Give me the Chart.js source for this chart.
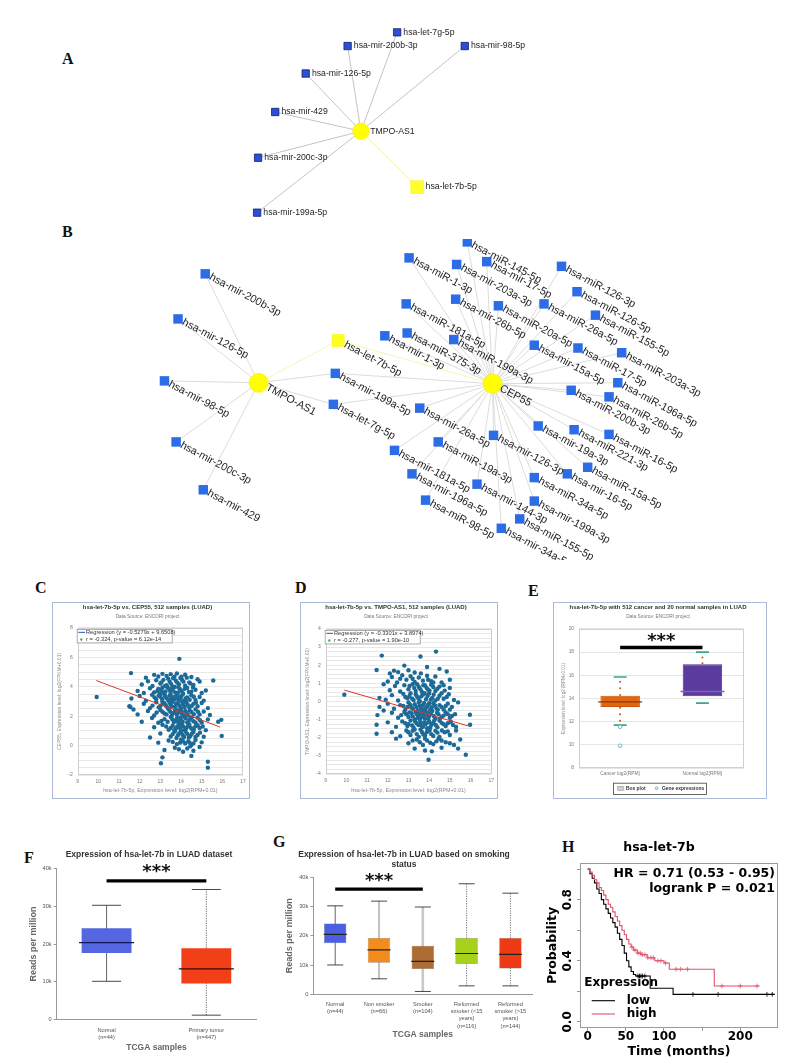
<!DOCTYPE html>
<html>
<head>
<meta charset="utf-8">
<title>hsa-let-7b-5p / TMPO-AS1 / CEP55</title>
<script src="https://cdn.jsdelivr.net/npm/chart.js@4.4.0/dist/chart.umd.min.js"></script>
<style>
  html, body { margin: 0; padding: 0; background: #fff; }
  body { position: relative; width: 795px; height: 1060px; overflow: hidden; }
  canvas { position: absolute; }
  .tag { position: absolute; font: bold 16px "Liberation Serif", "Times New Roman", serif; color: #111; line-height: 16px; }
  .card { position: absolute; box-sizing: border-box; border: 1px solid #a9bbd6; background: #fff; }
</style>
</head>
<body>
<div class="tag" style="left:62px;top:51px">A</div>
<div class="tag" style="left:62px;top:224px">B</div>
<div class="tag" style="left:35px;top:580px">C</div>
<div class="tag" style="left:295px;top:580px">D</div>
<div class="tag" style="left:528px;top:583px">E</div>
<div class="tag" style="left:24px;top:850px">F</div>
<div class="tag" style="left:273px;top:834px">G</div>
<div class="tag" style="left:562px;top:839px">H</div>
<div class="card" style="left:52px;top:602px;width:198px;height:197px"></div>
<div class="card" style="left:300px;top:602px;width:198px;height:197px"></div>
<div class="card" style="left:553px;top:602px;width:214px;height:197px"></div>
<script>
/* ===== data ===== */

// A: TMPO-AS1 ceRNA sub-network (layout units)
const netANames = ['TMPO-AS1', 'hsa-let-7g-5p', 'hsa-mir-200b-3p', 'hsa-mir-98-5p', 'hsa-mir-126-5p',
  'hsa-mir-429', 'hsa-mir-200c-3p', 'hsa-mir-199a-5p', 'hsa-let-7b-5p'];
const netAX = [359, 397, 345, 468, 301, 269, 251, 250, 418];
const netAY = [132, 24, 39, 39, 69, 111, 161, 221, 193];
const netAKind = ['hub', 'mir', 'mir', 'mir', 'mir', 'mir', 'mir', 'mir', 'key'];
const netALinks = [[0, 1], [0, 2], [0, 3], [0, 4], [0, 5], [0, 6], [0, 7], [0, 8]];

// B: TMPO-AS1 / CEP55 network (layout units)
const netBNames = ['TMPO-AS1', 'hsa-mir-200b-3p', 'hsa-mir-126-5p', 'hsa-mir-98-5p', 'hsa-mir-200c-3p',
  'hsa-mir-429', 'hsa-let-7b-5p', 'hsa-mir-199a-5p', 'hsa-let-7g-5p', 'CEP55',
  'hsa-mir-1-3p', 'hsa-miR-145-5p', 'hsa-miR-1-3p', 'hsa-mir-203a-3p', 'hsa-mir-17-5p',
  'hsa-miR-126-3p', 'hsa-miR-126-5p', 'hsa-mir-26b-5p', 'hsa-miR-20a-5p', 'hsa-miR-26a-5p',
  'hsa-miR-155-5p', 'hsa-miR-181a-5p', 'hsa-miR-199a-3p', 'hsa-miR-375-3p', 'hsa-mir-15a-5p',
  'hsa-miR-17-5p', 'hsa-miR-203a-3p', 'hsa-miR-196a-5p', 'hsa-miR-200b-3p', 'hsa-miR-26b-5p',
  'hsa-mir-26a-5p', 'hsa-mir-19a-3p', 'hsa-miR-221-3p', 'hsa-miR-16-5p', 'hsa-miR-19a-3p',
  'hsa-mir-126-3p', 'hsa-mir-181a-5p', 'hsa-miR-15a-5p', 'hsa-mir-16-5p', 'hsa-miR-34a-5p',
  'hsa-mir-196a-5p', 'hsa-mir-144-3p', 'hsa-miR-98-5p', 'hsa-mir-199a-3p', 'hsa-miR-155-5p',
  'hsa-mir-34a-5p'];
const netBX = [253, 198, 170, 156, 168, 196, 335, 332, 330, 494,
  383, 468, 408, 457, 488, 565, 581, 456, 500, 547,
  600, 405, 454, 406, 537, 582, 627, 623, 575, 614,
  419, 541, 578, 614, 438, 495, 393, 592, 571, 537,
  411, 478, 425, 537, 522, 503];
const netBY = [382, 266, 314, 380, 445, 496, 337, 372, 405, 383,
  332, 232, 249, 256, 253, 258, 285, 293, 300, 298,
  310, 298, 336, 329, 342, 345, 350, 382, 390, 397,
  409, 428, 432, 437, 445, 438, 454, 472, 479, 483,
  479, 490, 507, 508, 527, 537];
const netBKind = ['hub', 'mir', 'mir', 'mir', 'mir', 'mir', 'key', 'mir', 'mir', 'hub'].concat(Array(36).fill('mir'));
const tmpoTargets = [1, 2, 3, 4, 5, 6, 7, 8];
const cepTargets = [6, 7, 8, 10, 11, 12, 13, 14, 15, 16, 17, 18, 19, 20, 21, 22, 23, 24, 25, 26, 27, 28,
  29, 30, 31, 32, 33, 34, 35, 36, 37, 38, 39, 40, 41, 42, 43, 44, 45];

// C: hsa-let-7b-5p vs CEP55 (log2 expression)
const cepPoints = [
  [12.3,4.62],[12.7,4.81],[12.9,4.7],[13.1,4.88],[13.3,4.74],[13.5,4.86],[13.62,4.58],[13.8,4.9],[14.02,4.69],[14.2,4.82],[14.5,4.66],[14.8,4.52],
  [12.1,4.15],[12.4,4.38],[12.62,4.05],[12.8,4.44],[13.0,4.22],[13.15,4.47],[13.3,4.1],[13.45,4.35],[13.6,4.02],[13.75,4.41],[13.9,4.18],[14.05,4.46],[14.2,4.08],[14.4,4.3],[14.6,4.12],[14.9,4.36],
  [11.9,3.72],[12.2,3.58],[12.5,3.9],[12.7,3.62],[12.9,3.85],[13.0,3.55],[13.1,3.95],[13.25,3.68],[13.4,3.88],[13.5,3.52],[13.6,3.78],[13.7,3.98],[13.85,3.6],[13.95,3.83],[14.1,3.55],[14.3,3.92],[14.5,3.66],[14.7,3.8],[15.0,3.58],[15.2,3.75],
  [11.6,3.2],[12.0,3.38],[12.3,3.05],[12.6,3.45],[12.8,3.15],[13.0,3.32],[13.1,3.02],[13.2,3.48],[13.3,3.22],[13.45,3.4],[13.55,3.08],[13.65,3.3],[13.8,3.45],[13.9,3.12],[14.0,3.36],[14.15,3.04],[14.3,3.28],[14.5,3.42],[14.7,3.1],[14.9,3.3],[15.1,3.06],
  [11.55,2.62],[12.2,2.85],[12.5,2.55],[12.8,2.95],[13.0,2.7],[13.2,2.88],[13.35,2.58],[13.5,2.8],[13.6,2.98],[13.7,2.65],[13.85,2.9],[14.0,2.52],[14.1,2.78],[14.25,2.96],[14.4,2.6],[14.6,2.84],[14.8,2.68],[15.0,2.9],[15.3,2.55],
  [11.9,2.12],[12.4,2.35],[12.7,2.05],[13.0,2.42],[13.2,2.18],[13.4,2.45],[13.55,2.02],[13.7,2.3],[13.8,2.1],[13.95,2.4],[14.05,2.15],[14.2,2.36],[14.35,2.05],[14.5,2.28],[14.7,2.46],[14.9,2.12],[15.1,2.32],[15.4,2.08],
  [12.1,1.62],[12.6,1.88],[12.9,1.55],[13.2,1.8],[13.5,1.95],[13.65,1.6],[13.8,1.85],[13.9,1.52],[14.0,1.75],[14.15,1.98],[14.3,1.58],[14.45,1.82],[14.6,1.66],[14.8,1.9],[15.0,1.56],[15.3,1.78],
  [12.7,1.25],[13.1,1.42],[13.4,1.08],[13.6,1.35],[13.75,1.15],[13.9,1.46],[14.0,1.02],[14.1,1.3],[14.25,1.18],[14.4,1.44],[14.55,1.1],[14.7,1.32],[14.9,1.2],[15.2,1.05],
  [12.5,0.55],[13.0,0.82],[13.5,0.62],[13.7,0.95],[13.85,0.7],[14.0,0.88],[14.15,0.58],[14.3,0.8],[14.45,0.65],[14.6,0.92],[14.8,0.72],[15.1,0.6],
  [12.9,0.2],[13.4,0.35],[13.8,0.1],[14.0,0.42],[14.2,0.15],[14.35,0.3],[14.5,0.05],[14.7,0.38],[15.0,0.22],
  [13.2,-0.3],[13.7,-0.15],[14.1,-0.42],[14.3,-0.2],[14.6,-0.35],[14.9,-0.1],[13.1,-0.8],[14.5,-0.7],
  [9.92,3.3],[13.92,5.9],[15.56,4.43],[11.58,4.93],[13.03,-1.2],[15.3,-1.1],[15.3,-1.5],[15.97,0.66],[15.95,1.75],[15.8,1.62],[11.5,2.68],[11.7,2.45],
  [13.05,4.3],[13.22,4.05],[13.38,4.55],[13.52,4.2],[13.68,4.68],[13.82,4.28],[13.97,4.6],[14.12,4.35],[14.28,4.62],[14.45,4.22],
  [12.85,3.7],[13.05,3.78],[13.18,3.6],[13.33,3.98],[13.48,3.7],[13.58,3.92],[13.72,3.62],[13.88,3.96],[14.03,3.72],[14.18,3.86],[14.38,3.64],[14.58,3.95],
  [12.72,3.28],[12.92,3.4],[13.08,3.18],[13.24,3.36],[13.38,3.1],[13.52,3.26],[13.7,3.14],[13.84,3.28],[13.98,3.18],[14.08,3.48],[14.22,3.2],[14.42,3.12],[14.62,3.32],
  [12.62,2.72],[12.92,2.6],[13.1,2.82],[13.28,2.7],[13.44,2.92],[13.55,2.66],[13.76,2.84],[13.92,2.7],[14.06,2.95],[14.18,2.62],[14.32,2.8],[14.52,2.7],[14.72,2.92],
  [12.82,2.25],[13.1,2.3],[13.3,2.12],[13.48,2.3],[13.62,2.2],[13.75,2.48],[13.88,2.25],[14.0,2.3],[14.12,2.05],[14.28,2.22],[14.42,2.4],[14.62,2.14],[14.82,2.3],
  [13.05,1.68],[13.35,1.62],[13.58,1.78],[13.72,1.7],[13.85,1.62],[13.95,1.9],[14.08,1.62],[14.22,1.85],[14.38,1.7],[14.52,1.92],[14.7,1.58],[14.92,1.72],
  [13.28,1.3],[13.5,1.2],[13.68,1.05],[13.82,1.3],[13.95,1.2],[14.05,1.4],[14.18,1.08],[14.32,1.32],[14.48,1.22],[14.62,1.1],[14.8,1.38],[15.05,1.3],
  [13.6,0.78],[13.78,0.52],[13.92,0.85],[14.08,0.72],[14.22,0.95],[14.38,0.55],[14.52,0.8],[14.7,0.58],[14.92,0.88],
  [13.6,0.25],[13.95,0.2],[14.1,0.3],[14.42,0.2],[14.6,0.15],[13.9,-0.25],[14.45,-0.05]
];
const cepReg = { slope: -0.5279, icpt: 9.6508, from: 9.9, to: 15.9 };

// D: hsa-let-7b-5p vs TMPO-AS1 (log2 expression)
const tmpoPoints = [
  [12.1,1.55],[12.3,1.7],[12.5,1.62],[12.8,1.98],[13.0,1.72],[13.3,1.6],[13.6,1.55],[13.58,2.48],[14.33,2.75],[14.5,1.8],[14.85,1.65],[13.9,1.9],
  [12.0,1.1],[12.2,1.35],[12.45,1.05],[12.7,1.45],[12.9,1.2],[13.1,1.4],[13.3,1.08],[13.5,1.32],[13.7,1.15],[13.9,1.42],[14.1,1.12],[14.3,1.38],[14.6,1.05],[15.0,1.2],
  [11.8,0.95],[12.1,0.62],[12.35,0.85],[12.6,0.55],[12.8,0.9],[13.0,0.68],[13.2,0.95],[13.35,0.58],[13.5,0.8],[13.65,0.52],[13.8,0.88],[13.95,0.65],[14.1,0.92],[14.3,0.58],[14.5,0.82],[14.75,0.6],[15.0,0.75],
  [11.9,0.1],[12.2,0.35],[12.5,0.05],[12.75,0.42],[12.95,0.18],[13.1,0.46],[13.25,0.08],[13.4,0.3],[13.55,0.02],[13.7,0.38],[13.85,0.12],[14.0,0.44],[14.15,0.2],[14.3,0.05],[14.5,0.32],[14.7,0.15],[14.95,0.4],[15.2,0.08],
  [11.6,-0.3],[12.0,-0.12],[12.3,-0.4],[12.6,-0.2],[12.85,-0.45],[13.0,-0.05],[13.15,-0.32],[13.3,-0.15],[13.45,-0.48],[13.55,-0.22],[13.65,-0.4],[13.75,-0.08],[13.85,-0.35],[13.95,-0.18],[14.05,-0.46],[14.2,-0.1],[14.35,-0.38],[14.5,-0.2],[14.7,-0.44],[14.9,-0.12],[15.1,-0.3],[15.4,-0.05],
  [11.5,-0.75],[12.2,-0.62],[12.5,-0.9],[12.8,-0.58],[13.0,-0.85],[13.15,-0.65],[13.3,-0.98],[13.4,-0.7],[13.5,-0.55],[13.6,-0.88],[13.7,-0.66],[13.8,-0.95],[13.9,-0.6],[14.0,-0.8],[14.15,-0.52],[14.3,-0.92],[14.45,-0.7],[14.6,-0.85],[14.8,-0.6],[15.0,-0.9],[15.25,-0.7],[15.97,-0.73],
  [11.46,-1.28],[12.0,-1.15],[12.4,-1.4],[12.7,-1.1],[12.95,-1.35],[13.1,-1.05],[13.25,-1.45],[13.4,-1.2],[13.55,-1.02],[13.65,-1.38],[13.75,-1.15],[13.9,-1.48],[14.0,-1.1],[14.1,-1.3],[14.25,-1.05],[14.4,-1.42],[14.6,-1.18],[14.8,-1.35],[15.05,-1.12],[15.3,-1.4],[15.98,-1.28],
  [11.46,-1.78],[12.2,-1.7],[12.6,-1.92],[12.9,-1.6],[13.1,-1.85],[13.3,-1.55],[13.5,-1.95],[13.65,-1.68],[13.8,-1.88],[13.95,-1.58],[14.1,-1.8],[14.3,-1.62],[14.5,-1.95],[14.75,-1.7],[15.0,-1.85],[15.3,-1.6],
  [12.4,-2.05],[13.0,-2.3],[13.4,-2.1],[13.7,-2.4],[13.9,-2.15],[14.2,-2.35],[14.45,-2.05],[14.8,-2.25],[15.2,-2.4],[15.5,-2.1],
  [13.3,-2.6],[13.8,-2.7],[14.13,-2.75],[13.97,-3.21],[15.77,-2.94],[15.4,-2.6],[14.6,-2.55],
  [9.9,0.37],[11.71,2.53],[11.46,1.74],[11.6,0.2],[11.8,-0.5],
  [13.05,0.85],[13.28,0.75],[13.42,0.95],[13.58,0.68],[13.72,0.9],[13.88,0.75],[14.02,0.6],[14.2,0.8],[14.4,0.7],
  [12.85,0.25],[13.05,0.3],[13.18,0.15],[13.35,0.4],[13.48,0.18],[13.62,0.28],[13.78,0.45],[13.92,0.3],[14.08,0.1],[14.22,0.38],[14.42,0.15],[14.6,0.45],[14.85,0.25],
  [12.75,-0.25],[12.95,-0.3],[13.08,-0.18],[13.22,-0.42],[13.38,-0.3],[13.5,-0.05],[13.6,-0.32],[13.7,-0.2],[13.8,-0.48],[13.9,-0.28],[14.0,-0.1],[14.12,-0.32],[14.28,-0.22],[14.42,-0.45],[14.6,-0.3],[14.8,-0.25],[15.0,-0.45],
  [12.65,-0.75],[12.9,-0.7],[13.05,-0.6],[13.2,-0.82],[13.35,-0.58],[13.45,-0.9],[13.55,-0.75],[13.65,-0.6],[13.75,-0.85],[13.85,-0.72],[13.95,-0.92],[14.08,-0.68],[14.22,-0.8],[14.38,-0.62],[14.52,-0.95],[14.7,-0.78],[14.9,-0.7],[15.1,-0.8],
  [12.85,-1.2],[13.0,-1.25],[13.18,-1.32],[13.32,-1.1],[13.48,-1.3],[13.6,-1.2],[13.7,-1.4],[13.82,-1.25],[13.95,-1.15],[14.05,-1.45],[14.18,-1.2],[14.32,-1.3],[14.5,-1.05],[14.7,-1.25],[14.9,-1.2],[15.15,-1.3],
  [13.0,-1.7],[13.2,-1.62],[13.4,-1.8],[13.58,-1.55],[13.72,-1.82],[13.88,-1.7],[14.02,-1.6],[14.2,-1.9],[14.4,-1.72],[14.62,-1.6],[14.9,-1.65],
  [13.2,-2.15],[13.55,-2.25],[13.8,-2.05],[14.05,-2.28],[14.35,-2.2],[14.6,-2.15],[15.0,-2.3],
  [13.95,1.2],[14.2,1.05],[13.2,1.25],[12.6,1.25],[14.7,0.9]
];
const tmpoReg = { slope: -0.3301, icpt: 3.8974, from: 9.9, to: 15.9 };

// E: ENCORI box plot, log2(RPM+0.01)
const eCats = ['Cancer log2(RPM)', 'Normal log2(RPM)'];
const eQ1 = [13.27, 14.2];
const eMed = [13.71, 14.6];
const eQ3 = [14.24, 16.95];
const eLo = [11.7, 13.6];
const eHi = [15.86, 18.0];
const eDotsCancer = [15.45, 14.88, 14.3, 13.2, 12.63, 12.08];
const eDotsNormal = [17.53, 17.05];
const eOpenCancer = [11.55, 9.92];
const eSigLevel = 18.4;

// F: UALCAN, reads per million
const fCats = ['Normal', 'Primary tumor'];
const fTicks = [['Normal', '(n=44)'], ['Primary tumor', '(n=447)']];
const fQ1 = [17600, 9500];
const fMed = [20400, 13400];
const fQ3 = [24200, 18900];
const fLo = [10100, 1100];
const fHi = [30300, 34500];
const fSigLevel = 36800;

// G: UALCAN by smoking status
const gCats = ['Normal', 'Non smoker', 'Smoker', 'Reformed smoker (<15 years)', 'Reformed smoker (>15 years)'];
const gTicks = [['Normal', '(n=44)'], ['Non smoker', '(n=66)'], ['Smoker', '(n=104)'],
  ['Reformed', 'smoker (<15', 'years)', '(n=116)'], ['Reformed', 'smoker (>15', 'years)', '(n=144)']];
const gQ1 = [17500, 10900, 8700, 10400, 8900];
const gMed = [20500, 15200, 11300, 14000, 13700];
const gQ3 = [24200, 19300, 16600, 19300, 19300];
const gLo = [10100, 5400, 1100, 3000, 3000];
const gHi = [30200, 31800, 29800, 37700, 34500];
const gSigLevel = 35900;

// H: Kaplan-Meier, hsa-let-7b
const kmLowT = [0, 3, 6, 9, 12, 15, 18, 21, 24, 27, 30, 33, 36, 39, 42, 45, 48, 51, 54, 57, 60, 63, 82, 112, 245];
const kmLowS = [1.0, 0.97, 0.94, 0.91, 0.87, 0.84, 0.80, 0.77, 0.74, 0.71, 0.68, 0.65, 0.62, 0.58, 0.54, 0.50, 0.45, 0.40, 0.36, 0.33, 0.31, 0.30, 0.22, 0.18, 0.18];
const kmHighT = [0, 3, 6, 9, 12, 15, 18, 21, 24, 27, 30, 33, 36, 39, 42, 45, 48, 51, 54, 57, 60, 65, 70, 78, 88, 100, 107, 166, 225];
const kmHighS = [1.0, 0.98, 0.96, 0.93, 0.91, 0.88, 0.86, 0.83, 0.80, 0.77, 0.75, 0.72, 0.69, 0.66, 0.63, 0.60, 0.57, 0.54, 0.51, 0.49, 0.47, 0.45, 0.44, 0.42, 0.40, 0.385, 0.345, 0.235, 0.235];
const kmLowCens = [66, 68, 70, 72, 75, 138, 171, 235, 242];
const kmHighCens = [58, 62, 66, 69, 72, 75, 79, 83, 86, 92, 96, 102, 116, 122, 131, 176, 200, 222];

/* ===== shared setup ===== */
const SANS = '"Liberation Sans", Arial, sans-serif';
const DJV = '"DejaVu Sans", sans-serif';
Chart.defaults.font.family = SANS;
Chart.defaults.color = '#666';
Chart.defaults.animation = false;
Chart.defaults.responsive = false;
Chart.defaults.events = [];
Chart.defaults.plugins.legend.display = false;
Chart.defaults.plugins.tooltip.enabled = false;

function canvasAt(left, top, w, h) {
  const c = document.createElement('canvas');
  c.width = w; c.height = h;
  c.style.left = left + 'px'; c.style.top = top + 'px';
  c.style.width = w + 'px'; c.style.height = h + 'px';
  document.body.appendChild(c);
  return c;
}
const fixW = w => s => { s.width = w; };
const fixH = h => s => { s.height = h; };
const onStep = (v, m) => Math.abs(v / m - Math.round(v / m)) < 1e-6;
const stepAt = (T, S, t) => { let s = S[0]; T.forEach((tt, i) => { if (tt <= t) s = S[i]; }); return s; };

function drawText(ctx, x, y, t) {
  ctx.save();
  ctx.translate(x, y);
  if (t.rot) ctx.rotate(t.rot * Math.PI / 180);
  ctx.font = t.font;
  ctx.fillStyle = t.color || '#000';
  ctx.textAlign = t.align || 'left';
  ctx.textBaseline = t.base || 'middle';
  ctx.fillText(t.text, 0, 0);
  ctx.restore();
}

// frame, small legends and annotations drawn on top of a chart
function decor(cfg) {
  return {
    id: 'decor',
    afterDraw(chart) {
      const ctx = chart.ctx, a = chart.chartArea;
      ctx.save();
      if (cfg.frame) {
        ctx.strokeStyle = cfg.frame; ctx.lineWidth = 1;
        ctx.strokeRect(Math.round(a.left) + 0.5, Math.round(a.top) + 0.5,
          Math.round(a.right - a.left) - 1, Math.round(a.bottom - a.top) - 1);
      }
      if (cfg.box) {
        const b = cfg.box;
        const [bx, by] = b.at(chart);
        if (b.border) {
          ctx.fillStyle = '#fff'; ctx.fillRect(bx, by, b.w, b.h);
          ctx.strokeStyle = b.border; ctx.lineWidth = b.lw || 0.8;
          ctx.strokeRect(bx + 0.5, by + 0.5, b.w, b.h);
        }
        b.marks.forEach(m => {
          ctx.beginPath();
          if (m.kind === 'line') {
            ctx.strokeStyle = m.color; ctx.lineWidth = m.lw || 1;
            ctx.moveTo(bx + m.x1, by + m.y); ctx.lineTo(bx + m.x2, by + m.y); ctx.stroke();
          } else if (m.kind === 'dot') {
            ctx.fillStyle = m.color; ctx.arc(bx + m.x, by + m.y, m.r, 0, 2 * Math.PI); ctx.fill();
          } else if (m.kind === 'ring') {
            ctx.strokeStyle = m.color; ctx.lineWidth = 0.8; ctx.arc(bx + m.x, by + m.y, m.r, 0, 2 * Math.PI); ctx.stroke();
          } else if (m.kind === 'rect') {
            ctx.fillStyle = m.color; ctx.fillRect(bx + m.x, by + m.y, m.w, m.h);
            ctx.strokeStyle = m.stroke; ctx.lineWidth = 0.6; ctx.strokeRect(bx + m.x, by + m.y, m.w, m.h);
          }
        });
        b.texts.forEach(t => drawText(ctx, bx + t.x, by + t.y, t));
      }
      (cfg.texts || []).forEach(t => { const [x, y] = t.at(chart); drawText(ctx, x, y, t); });
      ctx.restore();
    }
  };
}

/* ===== networks (A, B) ===== */
function nodeLabels(look) {
  return {
    id: 'nodeLabels',
    afterDatasetsDraw(chart) {
      const ctx = chart.ctx;
      ctx.save();
      ctx.font = look.font; ctx.fillStyle = '#1e1e1e';
      ctx.textBaseline = 'middle'; ctx.textAlign = 'left';
      chart.data.datasets.forEach((ds, di) => {
        if (!ds.nodeNames) return;
        chart.getDatasetMeta(di).data.forEach((pt, k) => {
          ctx.save();
          ctx.translate(pt.x, pt.y);
          ctx.rotate(look.angle * Math.PI / 180);
          ctx.fillText(ds.nodeNames[k], ds.labelGap, 0);
          ctx.restore();
        });
      });
      ctx.restore();
    }
  };
}

function networkChart(canvas, net, look) {
  const datasets = [];
  net.links.forEach(([i, j]) => {
    const key = net.kind[i] === 'key' || net.kind[j] === 'key';
    datasets.push({
      type: 'line',
      data: [{ x: net.x[i], y: net.y[i] }, { x: net.x[j], y: net.y[j] }],
      borderColor: key ? look.keyEdge : look.edge,
      borderWidth: look.edgeWidth,
      pointRadius: 0,
      order: 2
    });
  });
  Object.keys(look.nodes).forEach(kind => {
    const st = look.nodes[kind];
    const idx = net.kind.map((k, i) => (k === kind ? i : -1)).filter(i => i >= 0);
    datasets.push({
      type: 'scatter',
      data: idx.map(i => ({ x: net.x[i], y: net.y[i] })),
      nodeNames: idx.map(i => net.names[i]),
      labelGap: st.gap,
      pointStyle: st.shape,
      pointRadius: st.r,
      backgroundColor: st.fill,
      borderColor: st.stroke,
      borderWidth: st.bw,
      order: 1
    });
  });
  return new Chart(canvas, {
    type: 'scatter',
    data: { datasets },
    options: {
      layout: { padding: 0 },
      scales: {
        x: { type: 'linear', display: false, min: look.xMin, max: look.xMax },
        y: { type: 'linear', display: false, min: look.yMin, max: look.yMax, reverse: true }
      }
    },
    plugins: [nodeLabels(look)]
  });
}

networkChart(canvasAt(200, 10, 400, 225), {
  names: netANames, x: netAX, y: netAY, kind: netAKind, links: netALinks
}, {
  xMin: 200, xMax: 600, yMin: 10, yMax: 235,
  edge: '#bdbdbd', keyEdge: '#efeea0', edgeWidth: 0.9,
  font: '8.7px ' + SANS, angle: 0,
  nodes: {
    hub: { shape: 'circle', r: 8.3, fill: '#ffff00', stroke: '#f2ec00', bw: 0.5, gap: 9.3 },
    mir: { shape: 'rect', r: 5.2, fill: '#2b4fd8', stroke: '#14206a', bw: 0.8, gap: 6.2 },
    key: { shape: 'rect', r: 9, fill: '#ffff2e', stroke: '#f4f000', bw: 0.5, gap: 8.4 }
  }
});

const netBLinks = tmpoTargets.map(t => [0, t]).concat(cepTargets.map(t => [9, t]));
networkChart(canvasAt(100, 229, 690, 331), {
  names: netBNames, x: netBX, y: netBY, kind: netBKind, links: netBLinks
}, {
  xMin: 100, xMax: 790, yMin: 229, yMax: 560,
  edge: '#dcdcdc', keyEdge: '#f8f5b0', edgeWidth: 1,
  font: '10.8px ' + SANS, angle: 28,
  nodes: {
    hub: { shape: 'circle', r: 9.6, fill: '#ffff00', stroke: '#f2ec00', bw: 0.5, gap: 9 },
    mir: { shape: 'rect', r: 6.7, fill: '#2c6ce6', stroke: '#2c6ce6', bw: 0, gap: 5.6 },
    key: { shape: 'rect', r: 8.5, fill: '#ffff1e', stroke: '#f4f000', bw: 0.5, gap: 7.5 }
  }
});

/* ===== ENCORI scatter panels (C, D) ===== */
function encoriScatter(canvas, o) {
  const reg = o.reg;
  return new Chart(canvas, {
    type: 'scatter',
    data: {
      datasets: [
        {
          type: 'line',
          data: [{ x: reg.from, y: reg.slope * reg.from + reg.icpt }, { x: reg.to, y: reg.slope * reg.to + reg.icpt }],
          borderColor: '#e0352b', borderWidth: 1, pointRadius: 0, order: 1
        },
        {
          data: o.points.map(p => ({ x: p[0], y: p[1] })),
          pointRadius: 2.2, backgroundColor: '#1c6a97', borderWidth: 0, order: 2
        }
      ]
    },
    options: {
      layout: { padding: { right: o.padR } },
      plugins: {
        title: { display: true, text: o.title, color: '#333', font: { size: 6, weight: 'bold', lineHeight: 1.2 }, padding: { top: 1.4, bottom: 1 } },
        subtitle: { display: true, text: 'Data Source: ENCORI project', color: '#777', font: { size: 4.8, lineHeight: 1.2 }, padding: { top: 2.5, bottom: o.subPad } }
      },
      scales: {
        x: {
          type: 'linear', min: 9, max: 17, afterFit: fixH(o.xh),
          ticks: { stepSize: 1, autoSkip: false, font: { size: 5 }, color: '#777', padding: 4 },
          grid: { drawOnChartArea: false, drawTicks: false },
          border: { display: false },
          title: { display: true, text: 'hsa-let-7b-5p, Expression level: log2(RPM+0.01)', font: { size: 5.3 }, color: '#888', padding: { top: 0, bottom: 5 } }
        },
        y: {
          type: 'linear', min: o.yMin, max: o.yMax, afterFit: fixW(25.7),
          ticks: { stepSize: o.minor, autoSkip: false, callback: v => (onStep(v, o.major) ? String(Math.round(v)) : ''), font: { size: 5 }, color: '#777', padding: 5 },
          grid: { color: '#e2e2e2', lineWidth: 0.8, drawTicks: false },
          border: { display: false },
          title: { display: true, text: o.yTitle, font: { size: 5 }, color: '#888', padding: { top: 5, bottom: 0 } }
        }
      }
    },
    plugins: [decor({
      frame: '#cfcfcf',
      box: {
        at: c => [c.chartArea.left - 1, c.chartArea.top + 1], w: 95, h: 13.5, border: '#9a9a9a',
        marks: [
          { kind: 'line', x1: 1.6, x2: 8.3, y: 3.4, color: '#3366cc', lw: 1.1 },
          { kind: 'dot', x: 4.6, y: 10.6, r: 1.2, color: '#4caf50' }
        ],
        texts: [
          { x: 9.3, y: 3.4, text: o.regText, font: '5.7px ' + SANS, color: '#333' },
          { x: 9.3, y: 10.6, text: o.corText, font: '5.7px ' + SANS, color: '#333' }
        ]
      }
    })]
  });
}

encoriScatter(canvasAt(52, 602, 198, 197), {
  points: cepPoints, reg: cepReg, yMin: -2, yMax: 8, minor: 0.5, major: 2, padR: 7, subPad: 8.1, xh: 24,
  title: 'hsa-let-7b-5p vs. CEP55, 512 samples (LUAD)',
  yTitle: 'CEP55, Expression level: log2(FPKM+0.01)',
  regText: 'Regression (y = -0.5279x + 9.6508)',
  corText: 'r = -0.324, p-value = 6.12e-14'
});

encoriScatter(canvasAt(300, 602, 198, 197), {
  points: tmpoPoints, reg: tmpoReg, yMin: -4, yMax: 4, minor: 0.25, major: 1, padR: 6, subPad: 9.1, xh: 25,
  title: 'hsa-let-7b-5p vs. TMPO-AS1, 512 samples (LUAD)',
  yTitle: 'TMPO-AS1, Expression level: log2(FPKM+0.01)',
  regText: 'Regression (y = -0.3301x + 3.8974)',
  corText: 'r = -0.277, p-value = 1.90e-10'
});

/* ===== box plots ===== */
function boxSets(cats, q1, med, q3, lo, hi, look) {
  const sets = [];
  cats.forEach((c, i) => sets.push({
    type: 'line', data: [{ x: c, y: lo[i] }, { x: c, y: hi[i] }],
    borderColor: look.whisker[i], borderWidth: look.whiskerWidth[i], borderDash: look.whiskerDash[i],
    pointRadius: 0, order: 5
  }));
  sets.push({
    type: 'bar', data: cats.map((c, i) => [q1[i], q3[i]]),
    backgroundColor: look.fill, borderColor: look.edge, borderWidth: look.edgeWidth, borderSkipped: false,
    barPercentage: look.barPct, categoryPercentage: 1, order: 4
  });
  sets.push({
    type: 'line', showLine: false,
    data: cats.flatMap((c, i) => [{ x: c, y: lo[i] }, { x: c, y: hi[i] }]),
    pointStyle: 'line', pointRadius: look.capR, pointBorderColor: look.capColor, pointBorderWidth: look.capWidth, order: 2
  });
  sets.push({
    type: 'line', showLine: false,
    data: cats.map((c, i) => ({ x: c, y: med[i] })),
    pointStyle: 'line', pointRadius: look.medR, pointBorderColor: look.medColor, pointBorderWidth: look.medWidth, order: 1
  });
  return sets;
}
function sigBar(a, b, level, width) {
  return { type: 'line', data: [{ x: a, y: level }, { x: b, y: level }], borderColor: '#000', borderWidth: width, pointRadius: 0, order: 0 };
}
function stars(i, j, level, lift) {
  return {
    text: '***', font: 'bold 18px ' + DJV, color: '#111', align: 'center', base: 'alphabetic',
    at: c => [(c.scales.x.getPixelForValue(i) + c.scales.x.getPixelForValue(j)) / 2, c.scales.y.getPixelForValue(level) - lift]
  };
}

// E
const eSets = boxSets(eCats, eQ1, eMed, eQ3, eLo, eHi, {
  whisker: ['rgba(0,0,0,0)', 'rgba(0,0,0,0)'], whiskerWidth: [0, 0], whiskerDash: [[], []],
  fill: ['#e2650f', '#5b3c9e'], edge: ['#c9560a', '#4a2f8c'], edgeWidth: 1, barPct: 0.48,
  capR: 6.5, capColor: '#3aa68a', capWidth: 1.6,
  medR: 22, medColor: ['#8a3a10', '#7a62c0'], medWidth: 1.4
});
eSets.push({
  type: 'line', showLine: false,
  data: eDotsCancer.map(v => ({ x: eCats[0], y: v })).concat(eDotsNormal.map(v => ({ x: eCats[1], y: v }))),
  pointStyle: 'circle', pointRadius: 1, pointBackgroundColor: '#c4521c', pointBorderWidth: 0, order: 0
});
eSets.push({
  type: 'line', showLine: false,
  data: eOpenCancer.map(v => ({ x: eCats[0], y: v })),
  pointStyle: 'circle', pointRadius: 1.8, pointBackgroundColor: '#fff', pointBorderColor: '#4aa8cc', pointBorderWidth: 0.8, order: 0
});
eSets.push(sigBar(eCats[0], eCats[1], eSigLevel, 3.4));

new Chart(canvasAt(553, 602, 214, 197), {
  type: 'bar',
  data: { labels: eCats, datasets: eSets },
  options: {
    layout: { padding: { right: 4 } },
    plugins: {
      title: { display: true, text: 'hsa-let-7b-5p with 512 cancer and 20 normal samples in LUAD', color: '#333', font: { size: 6, weight: 'bold', lineHeight: 1.2 }, padding: { top: 1.4, bottom: 1 } },
      subtitle: { display: true, text: 'Data Source: ENCORI project', color: '#777', font: { size: 4.8, lineHeight: 1.2 }, padding: { top: 2.5, bottom: 9.1 } }
    },
    scales: {
      x: {
        afterFit: fixH(31),
        ticks: { callback: (v, i) => eCats[i], font: { size: 4.8 }, color: '#777', padding: 3.1 },
        grid: { display: false, drawTicks: false }, border: { display: false }
      },
      y: {
        min: 8, max: 20, afterFit: fixW(26),
        ticks: { stepSize: 2, font: { size: 4.8 }, color: '#777', padding: 5 },
        grid: { color: '#e6e6e6', drawTicks: false }, border: { display: false },
        title: { display: true, text: 'Expression level: log2 (RPM+0.01)', font: { size: 4.6 }, color: '#888', padding: { top: 7.5, bottom: 0 } }
      }
    }
  },
  plugins: [decor({
    frame: '#d0d0d0',
    texts: [stars(0, 1, eSigLevel, 1)],
    box: {
      at: () => [60, 180.7], w: 93, h: 11.3, border: '#555', lw: 0.9,
      marks: [
        { kind: 'rect', x: 4.7, y: 3.6, w: 5.6, h: 4, color: '#cfcfcf', stroke: '#9a9a9a' },
        { kind: 'ring', x: 43.7, y: 5.6, r: 1.3, color: '#3aa0b0' }
      ],
      texts: [
        { x: 13, y: 5.7, text: 'Box plot', font: 'bold 4.9px ' + SANS, color: '#333' },
        { x: 49, y: 5.7, text: 'Gene expressions', font: 'bold 4.9px ' + SANS, color: '#333' }
      ]
    }
  })]
});

// F
const fSets = boxSets(fCats, fQ1, fMed, fQ3, fLo, fHi, {
  whisker: ['#555', '#555'], whiskerWidth: [0.9, 0.9], whiskerDash: [[], [1.2, 1.2]],
  fill: ['#5466e0', '#f23f18'], edge: ['#5466e0', '#f23f18'], edgeWidth: 0, barPct: 0.5,
  capR: 14.5, capColor: '#333', capWidth: 0.9,
  medR: 27.5, medColor: ['#14145a', '#3a0a00'], medWidth: 1.3
});
fSets.push(sigBar(fCats[0], fCats[1], fSigLevel, 3.3));

const ualcanY = (w, titlePad) => ({
  min: 0, max: 40000, afterFit: fixW(w),
  ticks: { stepSize: 10000, callback: v => (v === 0 ? '0' : v / 1000 + 'k'), font: { size: 5.7 }, color: '#555', padding: 2 },
  grid: { drawOnChartArea: false, drawTicks: true, tickLength: 3, color: '#999' },
  border: { color: '#999' },
  title: { display: true, text: 'Reads per million', color: '#666', font: { size: 9, weight: 'bold', lineHeight: 1.2 }, padding: { top: titlePad, bottom: 0 } }
});

new Chart(canvasAt(20, 840, 265, 220), {
  type: 'bar',
  data: { labels: fCats, datasets: fSets },
  options: {
    layout: { padding: { right: 7 } },
    plugins: {
      title: { display: true, text: 'Expression of hsa-let-7b in LUAD dataset', color: '#333', font: { size: 8.5, weight: 'bold', lineHeight: 1.2 }, padding: { top: 8.9, bottom: 8.6 } }
    },
    scales: {
      x: {
        afterFit: fixH(40.7),
        ticks: { callback: (v, i) => fTicks[i], font: { size: 5.7, lineHeight: 1.25 }, color: '#555', padding: 7.1 },
        grid: { display: false, drawTicks: false }, border: { color: '#999' },
        title: { display: true, text: 'TCGA samples', color: '#666', font: { size: 8.5, weight: 'bold', lineHeight: 1.2 }, padding: { top: 0, bottom: 6.9 } }
      },
      y: ualcanY(36.7, 8.6)
    }
  },
  plugins: [decor({ texts: [stars(0, 1, fSigLevel, 4.2)] })]
});

// G
const gSets = boxSets(gCats, gQ1, gMed, gQ3, gLo, gHi, {
  whisker: ['#555', '#777', '#c8c8c8', '#666', '#666'], whiskerWidth: [0.9, 0.9, 2.6, 0.9, 0.9],
  whiskerDash: [[], [], [], [1.2, 1.2], [1.2, 1.2]],
  fill: ['#4b60e0', '#f28d1d', '#ad6c34', '#a7d21b', '#ef3b13'], edge: '#6a6a6a', edgeWidth: 0.5, barPct: 0.51,
  capR: 8, capColor: '#333', capWidth: 0.9,
  medR: 11.5, medColor: '#222', medWidth: 1.2
});
gSets.push(sigBar(gCats[0], gCats[2], gSigLevel, 3.3));

new Chart(canvasAt(270, 830, 275, 230), {
  type: 'bar',
  data: { labels: gCats, datasets: gSets },
  options: {
    layout: { padding: { right: 7 } },
    plugins: {
      title: { display: true, text: ['Expression of hsa-let-7b in LUAD based on smoking', 'status'], color: '#333', font: { size: 8.5, weight: 'bold', lineHeight: 1.1 }, padding: { top: 20.3, bottom: 8 } }
    },
    scales: {
      x: {
        afterFit: fixH(65.3),
        ticks: { callback: (v, i) => gTicks[i], font: { size: 5.7, lineHeight: 1.3 }, color: '#555', padding: 5.6, maxRotation: 0, autoSkip: false },
        grid: { display: false, drawTicks: false }, border: { color: '#999' },
        title: { display: true, text: 'TCGA samples', color: '#666', font: { size: 8.5, weight: 'bold', lineHeight: 1.2 }, padding: { top: 0, bottom: 19.9 } }
      },
      y: ualcanY(43.3, 14.6)
    }
  },
  plugins: [decor({ texts: [stars(0, 2, gSigLevel, 3.2)] })]
});

/* ===== KM plot (H) ===== */
const BOLD12 = 'bold 12px ' + DJV;
new Chart(canvasAt(540, 835, 250, 225), {
  type: 'line',
  data: {
    datasets: [
      { data: kmLowT.map((t, i) => ({ x: t, y: kmLowS[i] })), stepped: true, borderColor: '#000', borderWidth: 1.1, pointRadius: 0, order: 2 },
      { data: kmHighT.map((t, i) => ({ x: t, y: kmHighS[i] })), stepped: true, borderColor: '#DF536B', borderWidth: 1.1, pointRadius: 0, order: 1 },
      { data: kmLowCens.map(t => ({ x: t, y: stepAt(kmLowT, kmLowS, t) })), showLine: false, pointStyle: 'cross', pointRadius: 2.4, pointBorderColor: '#000', pointBorderWidth: 0.8, order: 2 },
      { data: kmHighCens.map(t => ({ x: t, y: stepAt(kmHighT, kmHighS, t) })), showLine: false, pointStyle: 'cross', pointRadius: 2.4, pointBorderColor: '#DF536B', pointBorderWidth: 0.8, order: 1 }
    ]
  },
  options: {
    layout: { padding: { right: 12 } },
    plugins: {
      title: { display: true, text: 'hsa-let-7b', color: '#000', font: { family: DJV, size: 12.5, weight: 'bold', lineHeight: 1.2 }, padding: { top: 5.5, bottom: 7.5 } }
    },
    scales: {
      x: {
        type: 'linear', min: -10, max: 249.5, afterFit: fixH(32),
        ticks: { stepSize: 50, includeBounds: false, autoSkip: false, maxRotation: 0, callback: v => (v === 150 ? '' : String(v)), font: { family: DJV, size: 12, weight: 'bold', lineHeight: 1 }, color: '#000', padding: 0 },
        grid: { drawOnChartArea: false, drawTicks: true, tickLength: 3, color: '#999' },
        border: { display: false },
        title: { display: true, text: 'Time (months)', color: '#000', font: { family: DJV, size: 12.5, weight: 'bold', lineHeight: 1 }, padding: { top: 0, bottom: 2 } }
      },
      y: {
        type: 'linear', min: -0.04, max: 1.04, afterFit: fixW(40),
        ticks: { stepSize: 0.2, includeBounds: false, display: false },
        grid: { drawOnChartArea: false, drawTicks: true, tickLength: 3, color: '#999' },
        border: { display: false },
        title: { display: true, text: 'Probability', color: '#000', font: { family: DJV, size: 12.5, weight: 'bold', lineHeight: 1.2 }, padding: { top: 5.5, bottom: 0 } }
      }
    }
  },
  plugins: [decor({
    frame: '#9a9a9a',
    texts: [
      { text: 'HR = 0.71 (0.53 - 0.95)', font: 'bold 12.5px ' + DJV, align: 'right', at: c => [c.chartArea.right - 3, c.chartArea.top + 11] },
      { text: 'logrank P = 0.021', font: 'bold 12.5px ' + DJV, align: 'right', at: c => [c.chartArea.right - 3, c.chartArea.top + 26] }
    ].concat([0, 0.4, 0.8].map(v => ({
      text: v.toFixed(1), font: BOLD12, align: 'center', rot: -90,
      at: c => [c.chartArea.left - 12, c.scales.y.getPixelForValue(v)]
    }))),
    box: {
      at: c => [c.chartArea.left, c.chartArea.bottom], w: 0, h: 0,
      marks: [
        { kind: 'line', x1: 11.7, x2: 35, y: -27.3, color: '#000', lw: 1.1 },
        { kind: 'line', x1: 11.7, x2: 35, y: -14, color: '#DF536B', lw: 1.1 }
      ],
      texts: [
        { x: 4.3, y: -45.3, text: 'Expression', font: BOLD12 },
        { x: 46.7, y: -27.3, text: 'low', font: BOLD12 },
        { x: 46.7, y: -14, text: 'high', font: BOLD12 }
      ]
    }
  })]
});
</script>
</body>
</html>
